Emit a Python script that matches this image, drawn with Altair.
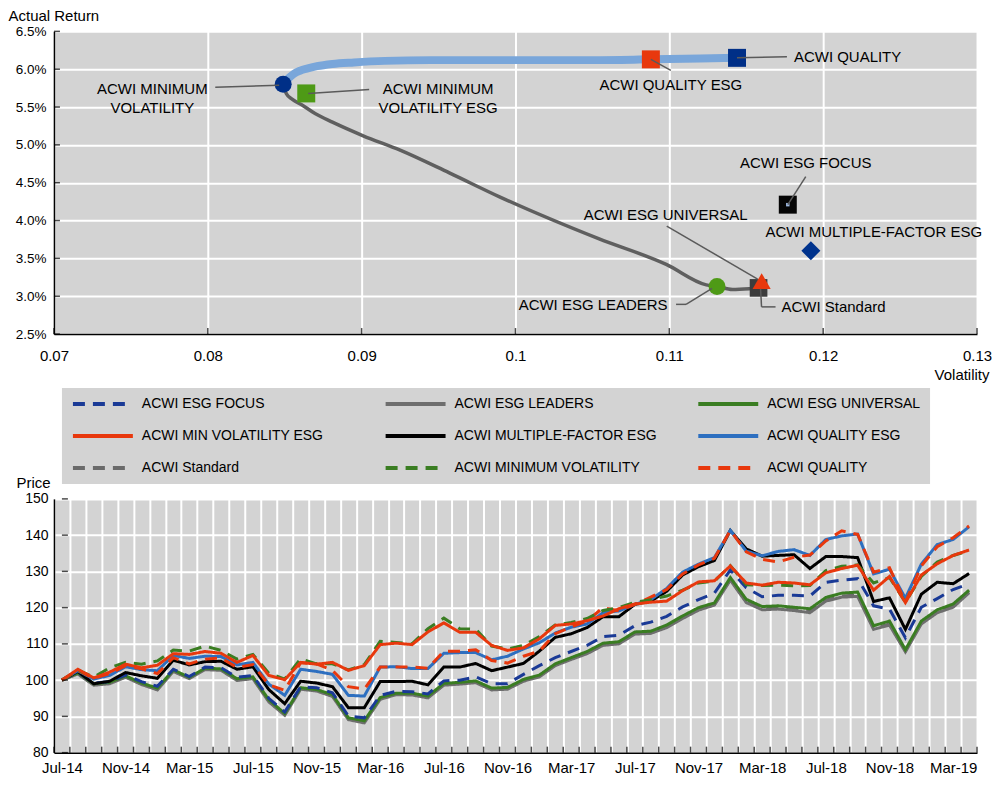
import altair as alt
import pandas as pd

FONT = "Liberation Sans, Arial, sans-serif"

# ---------------- top panel: risk / return ----------------
point_names = ["ACWI MINIMUM VOLATILITY", "ACWI MINIMUM VOLATILITY ESG", "ACWI QUALITY ESG",
               "ACWI QUALITY", "ACWI ESG FOCUS", "ACWI MULTIPLE-FACTOR ESG",
               "ACWI Standard", "ACWI ESG UNIVERSAL", "ACWI ESG LEADERS"]
point_vol = [0.0849, 0.0864, 0.1088, 0.1144, 0.1177, 0.1192, 0.1158, 0.1160, 0.1131]
point_ret = [0.0580, 0.0568, 0.0613, 0.0615, 0.0421, 0.0360, 0.0311, 0.0320, 0.0313]

upper_vol = [0.0849, 0.0851, 0.0853, 0.0856, 0.0860, 0.0865, 0.0871, 0.0881, 0.0895,
             0.0915, 0.0945, 0.0990, 0.1050, 0.1088, 0.1120, 0.1144]
upper_ret = [0.0580, 0.0585, 0.0589, 0.0594, 0.0598, 0.0601, 0.0604, 0.0607, 0.0609,
             0.0611, 0.0612, 0.0612, 0.0612, 0.0613, 0.0614, 0.0615]
lower_vol = [0.0849, 0.0851, 0.0855, 0.0861, 0.0870, 0.0881, 0.0901, 0.0925, 0.0957,
             0.0990, 0.1054, 0.1098, 0.1124, 0.1131, 0.1141, 0.1152, 0.1158]
lower_ret = [0.0580, 0.0568, 0.0560, 0.0553, 0.0541, 0.0530, 0.0512, 0.0493, 0.0463,
             0.0431, 0.0376, 0.0342, 0.0315, 0.0313, 0.0309, 0.0310, 0.0311]

vol_ticks = [0.07, 0.08, 0.09, 0.10, 0.11, 0.12, 0.13]
ret_ticks = [0.025, 0.030, 0.035, 0.040, 0.045, 0.050, 0.055, 0.060, 0.065]

# ---------------- bottom panel: prices ----------------
months = ["Jul-14", "Aug-14", "Sep-14", "Oct-14", "Nov-14", "Dec-14",
          "Jan-15", "Feb-15", "Mar-15", "Apr-15", "May-15", "Jun-15",
          "Jul-15", "Aug-15", "Sep-15", "Oct-15", "Nov-15", "Dec-15",
          "Jan-16", "Feb-16", "Mar-16", "Apr-16", "May-16", "Jun-16",
          "Jul-16", "Aug-16", "Sep-16", "Oct-16", "Nov-16", "Dec-16",
          "Jan-17", "Feb-17", "Mar-17", "Apr-17", "May-17", "Jun-17",
          "Jul-17", "Aug-17", "Sep-17", "Oct-17", "Nov-17", "Dec-17",
          "Jan-18", "Feb-18", "Mar-18", "Apr-18", "May-18", "Jun-18",
          "Jul-18", "Aug-18", "Sep-18", "Oct-18", "Nov-18", "Dec-18",
          "Jan-19", "Feb-19", "Mar-19", "Apr-19"]

esg_focus = [100, 102.2, 99.2, 99.6, 101.4, 99.6, 98.3, 103.0, 101.0, 103.6,
             103.4, 100.8, 101.3, 95.0, 91.2, 98.2, 97.9, 96.5, 90.1, 89.6,
             95.8, 96.9, 96.8, 96.2, 99.8, 100.0, 100.9, 99.0, 99.0, 101.6,
             104.0, 106.2, 107.9, 109.6, 112.0, 112.4, 115.0, 116.0, 117.6, 120.2,
             122.2, 124.0, 130.4, 125.5, 123.0, 123.4, 123.4, 123.2, 127.0, 127.6,
             128.0, 120.5, 119.6, 111.7, 120.1, 122.5, 125.0, 126.6]
esg_leaders = [100, 101.7, 98.6, 99.0, 100.8, 98.8, 97.3, 102.4, 100.4, 102.9,
               102.7, 99.9, 100.4, 94.0, 90.3, 97.5, 97.0, 95.5, 89.1, 88.2,
               94.7, 96.0, 95.9, 95.1, 98.6, 98.9, 99.3, 97.3, 97.5, 99.7,
               100.9, 104.0, 105.7, 107.3, 109.6, 110.0, 112.7, 112.9, 114.5, 117.0,
               119.3, 120.7, 127.6, 121.4, 119.4, 119.6, 119.2, 118.6, 121.8, 122.9,
               123.1, 114.0, 115.2, 107.8, 115.5, 118.6, 120.1, 124.1]
esg_universal = [100, 102.0, 99.0, 99.4, 101.2, 99.2, 97.8, 102.8, 100.8, 103.3,
                 103.1, 100.4, 100.9, 94.6, 90.8, 97.9, 97.4, 96.0, 89.6, 88.8,
                 95.2, 96.4, 96.4, 95.6, 99.1, 99.4, 99.8, 97.8, 98.0, 100.2,
                 101.4, 104.5, 106.2, 107.9, 110.2, 110.6, 113.3, 113.5, 115.2, 117.7,
                 120.0, 121.3, 128.3, 122.3, 120.3, 120.5, 120.1, 119.7, 122.8, 124.0,
                 124.3, 115.0, 116.3, 108.4, 116.3, 119.4, 121.0, 124.8]
min_vol_esg = [100, 103.0, 100.6, 102.2, 104.4, 103.4, 104.1, 107.3, 107.1, 107.9,
               107.4, 104.9, 106.8, 101.3, 100.1, 104.9, 104.4, 104.9, 102.7, 104.0,
               109.8, 110.2, 109.8, 113.3, 115.8, 113.2, 113.2, 109.6, 108.2, 108.9,
               111.4, 115.1, 115.5, 116.4, 117.7, 119.7, 121.0, 121.5, 121.8, 124.7,
               127.1, 127.4, 131.5, 126.8, 126.2, 127.0, 126.8, 126.3, 129.6, 130.8,
               131.7, 124.8, 128.6, 121.4, 129.0, 132.1, 134.4, 135.9]
multi_factor_esg = [100, 102.4, 99.0, 99.7, 102.1, 101.2, 100.5, 105.5, 104.2, 105.1,
                    105.2, 103.0, 103.7, 97.4, 93.5, 99.7, 99.2, 98.2, 92.4, 92.4,
                    99.6, 99.6, 99.7, 98.7, 103.6, 103.6, 104.6, 102.6, 103.6, 104.6,
                    108.0, 111.8, 112.8, 114.5, 117.5, 117.5, 120.9, 121.8, 124.5, 129.0,
                    131.3, 133.0, 141.3, 136.2, 134.2, 134.4, 134.6, 130.8, 134.1, 134.1,
                    133.8, 121.7, 122.7, 114.0, 123.7, 127.0, 126.6, 129.4]
quality_esg = [100, 102.6, 100.3, 101.3, 103.7, 102.9, 102.6, 106.8, 106.0, 106.6,
               106.5, 104.2, 104.9, 98.9, 95.8, 103.0, 102.4, 101.6, 95.8, 95.6,
               103.6, 103.7, 103.2, 103.2, 107.4, 107.6, 107.6, 105.6, 106.6, 108.6,
               110.3, 113.0, 114.6, 115.5, 118.6, 119.1, 120.9, 122.2, 125.3, 129.8,
               132.0, 133.8, 141.3, 135.6, 134.3, 135.5, 136.0, 134.4, 138.8, 139.8,
               140.3, 129.3, 130.6, 122.6, 132.0, 137.4, 138.8, 142.3]
standard = [100, 101.8, 98.8, 99.2, 101.0, 99.0, 97.5, 102.6, 100.6, 103.1,
            102.9, 100.1, 100.6, 94.3, 90.5, 97.7, 97.2, 95.7, 89.3, 88.5,
            94.9, 96.2, 96.1, 95.3, 98.8, 99.1, 99.5, 97.5, 97.7, 99.9,
            101.1, 104.2, 105.9, 107.5, 109.8, 110.2, 112.9, 113.1, 114.7, 117.2,
            119.5, 120.9, 127.8, 121.6, 119.7, 119.9, 119.5, 119.0, 122.1, 123.2,
            123.5, 114.3, 115.5, 108.0, 115.8, 118.9, 120.4, 124.3]
minimum_volatility = [100, 102.8, 100.8, 103.4, 104.9, 104.4, 105.3, 108.3, 108.0, 109.4,
                      108.2, 105.8, 107.1, 101.9, 100.3, 105.9, 104.5, 104.5, 102.8, 104.3,
                      110.7, 110.4, 110.0, 114.2, 117.1, 114.2, 114.1, 109.4, 108.6, 109.6,
                      112.0, 115.2, 115.9, 117.0, 119.2, 120.0, 121.5, 122.2, 123.2, 124.8,
                      126.8, 127.3, 131.6, 126.3, 126.1, 126.2, 126.0, 126.1, 130.2, 131.4,
                      131.8, 126.8, 128.3, 121.5, 128.6, 132.6, 134.4, 135.7]
quality = [100, 102.7, 100.5, 101.8, 104.0, 103.1, 101.8, 106.2, 104.5, 105.8,
           106.1, 103.5, 104.3, 98.7, 97.2, 104.8, 104.5, 102.7, 98.2, 97.5,
           103.6, 103.6, 103.6, 103.3, 108.0, 108.0, 108.4, 105.4, 104.7, 106.6,
           108.0, 112.8, 114.7, 116.3, 120.0, 119.1, 120.9, 122.9, 125.0, 129.3,
           131.8, 133.6, 141.3, 135.4, 133.3, 132.6, 133.9, 134.5, 138.4, 141.2,
           140.2, 129.8, 131.0, 121.5, 131.5, 136.8, 139.3, 142.5]

price_ticks = [80, 90, 100, 110, 120, 130, 140, 150]

series_data = {
    "ACWI ESG FOCUS": esg_focus,
    "ACWI ESG LEADERS": esg_leaders,
    "ACWI ESG UNIVERSAL": esg_universal,
    "ACWI MIN VOLATILITY ESG": min_vol_esg,
    "ACWI MULTIPLE-FACTOR ESG": multi_factor_esg,
    "ACWI QUALITY ESG": quality_esg,
    "ACWI Standard": standard,
    "ACWI MINIMUM VOLATILITY": minimum_volatility,
    "ACWI QUALITY": quality,
}
legend_order = list(series_data.keys())

# ---------------- styles / layout ----------------
series_colors = ["#1A3A96", "#6E6E6E", "#3A7D22", "#E8380D", "#000000",
                 "#2D6FC0", "#6A6A6A", "#3A7D22", "#E8380D"]
DASH = [12, 8]
SOLID = [1, 0]
series_dashes = [DASH, SOLID, SOLID, SOLID, SOLID, SOLID, DASH, DASH, DASH]
draw_order = ["ACWI Standard", "ACWI ESG LEADERS", "ACWI ESG UNIVERSAL", "ACWI ESG FOCUS",
              "ACWI MULTIPLE-FACTOR ESG", "ACWI QUALITY ESG", "ACWI QUALITY",
              "ACWI MINIMUM VOLATILITY", "ACWI MIN VOLATILITY ESG"]

marker_style = {
    "ACWI MINIMUM VOLATILITY": ("circle", "#002F87", 289),
    "ACWI MINIMUM VOLATILITY ESG": ("square", "#4E9A16", 324),
    "ACWI QUALITY ESG": ("square", "#E8380D", 324),
    "ACWI QUALITY": ("square", "#002F87", 324),
    "ACWI ESG FOCUS": ("square", "#050505", 324),
    "ACWI MULTIPLE-FACTOR ESG": ("diamond", "#00338D", 361),
    "ACWI Standard": ("square", "#3C3C3C", 313),
    "ACWI ESG UNIVERSAL": ("triangle-up", "#E8380D", 330),
    "ACWI ESG LEADERS": ("circle", "#4E9A16", 289),
}
marker_draw = ["ACWI MINIMUM VOLATILITY", "ACWI MINIMUM VOLATILITY ESG", "ACWI QUALITY ESG",
               "ACWI QUALITY", "ACWI ESG FOCUS", "ACWI MULTIPLE-FACTOR ESG",
               "ACWI ESG LEADERS", "ACWI Standard", "ACWI ESG UNIVERSAL"]
inner_dot = ("ACWI ESG FOCUS", "#9DB8E0", 12)

annotations = [
    dict(name="ACWI MINIMUM VOLATILITY", lines=["ACWI MINIMUM", "VOLATILITY"], dx=-131, dy=5,
         align="center", leaders=[(-68, 3, -4, 1)]),
    dict(name="ACWI MINIMUM VOLATILITY ESG", lines=["ACWI MINIMUM", "VOLATILITY ESG"], dx=132, dy=-4,
         align="center", leaders=[(63, -4, 2, 0)]),
    dict(name="ACWI QUALITY ESG", lines=["ACWI QUALITY ESG"], dx=20, dy=26,
         align="center", leaders=[(0, 0, 20, 11)]),
    dict(name="ACWI QUALITY", lines=["ACWI QUALITY"], dx=57, dy=-1,
         align="left", leaders=[(0, 0, 50, -1)]),
    dict(name="ACWI ESG FOCUS", lines=["ACWI ESG FOCUS"], dx=18, dy=-42,
         align="center", leaders=[(18, -28, 0, 0)]),
    dict(name="ACWI MULTIPLE-FACTOR ESG", lines=["ACWI MULTIPLE-FACTOR ESG"], dx=63, dy=-19,
         align="center", leaders=[]),
    dict(name="ACWI ESG UNIVERSAL", lines=["ACWI ESG UNIVERSAL"], dx=-96, dy=-66,
         align="center", leaders=[(-95, -55, -4, -2)]),
    dict(name="ACWI Standard", lines=["ACWI Standard"], dx=23, dy=19,
         align="left", leaders=[(17, 19, 3, 19), (3, 19, 2, 1)]),
    dict(name="ACWI ESG LEADERS", lines=["ACWI ESG LEADERS"], dx=-124, dy=19,
         align="center", leaders=[(-41, 18, -31, 18), (-31, 18, -5, 2)]),
]

GRID = "#FFFFFF"
BG = "#D3D3D3"
LEADER = "#5A5A5A"

# ================= top chart =================
pts = pd.DataFrame({"name": point_names, "vol": point_vol, "ret": point_ret})
upper = pd.DataFrame({"vol": upper_vol, "ret": upper_ret, "idx": range(len(upper_vol))})
lower = pd.DataFrame({"vol": lower_vol, "ret": lower_ret, "idx": range(len(lower_vol))})
vt = pd.DataFrame({"vol": vol_ticks})
rt = pd.DataFrame({"ret": ret_ticks})

xs = alt.Scale(domain=[vol_ticks[0], vol_ticks[-1]], nice=False, zero=False)
ys = alt.Scale(domain=[ret_ticks[0], ret_ticks[-1]], nice=False, zero=False)
x_axis = alt.Axis(values=vol_ticks, format="~g", title="Volatility", titleX=936, titleY=45,
                  titleAlign="right", titleBaseline="alphabetic", labelPadding=14,
                  labelFontSize=15, labelFlush=False, labelOverlap=False, ticks=False,
                  domainColor="black", domainWidth=1.5, gridColor=GRID, gridWidth=2, gridOpacity=1)
y_axis = alt.Axis(values=ret_ticks, format=".1%", title="Actual Return", titleAngle=0,
                  titleAlign="left", titleX=-46, titleY=-11, titleBaseline="alphabetic",
                  labelPadding=8, labelFontSize=13.5, labelFlush=False, labelOverlap=False,
                  ticks=False, domainColor="black", domainWidth=1.5, gridColor=GRID,
                  gridWidth=2, gridOpacity=1)
X = alt.X("vol:Q", scale=xs, axis=x_axis)
Y = alt.Y("ret:Q", scale=ys, axis=y_axis)

top_layers = []
top_layers.append(alt.Chart(upper).mark_line(color="#79A6DA", strokeWidth=8, interpolate="monotone")
                  .encode(x=X, y=Y, order=alt.Order("idx:Q")))
top_layers.append(alt.Chart(lower).mark_line(color="#5F5F5F", strokeWidth=3.5, interpolate="monotone")
                  .encode(x=X, y=Y, order=alt.Order("idx:Q")))
# inward axis ticks (at the axis baselines)
top_layers.append(alt.Chart(vt).transform_calculate(ret=str(ret_ticks[0]))
                  .mark_tick(orient="vertical", size=6, thickness=1.5, color="black", yOffset=-3)
                  .encode(x=X, y=Y))
top_layers.append(alt.Chart(rt).transform_calculate(vol=str(vol_ticks[0]))
                  .mark_tick(orient="horizontal", size=6, thickness=1.5, color="black", xOffset=3)
                  .encode(x=X, y=Y))
for n in marker_draw:
    shape, col, size = marker_style[n]
    top_layers.append(alt.Chart(pts).transform_filter(alt.datum.name == n)
                      .mark_point(shape=shape, filled=True, color=col, size=size, opacity=1)
                      .encode(x=X, y=Y))
top_layers.append(alt.Chart(pts).transform_filter(alt.datum.name == inner_dot[0])
                  .mark_point(shape="square", filled=True, color=inner_dot[1], size=inner_dot[2], opacity=1)
                  .encode(x=X, y=Y))
for a in annotations:
    for (x1, y1, x2, y2) in a["leaders"]:
        top_layers.append(alt.Chart(pts).transform_filter(alt.datum.name == a["name"])
                          .mark_rule(color=LEADER, strokeWidth=1.5, xOffset=x1, yOffset=y1,
                                     x2Offset=x2, y2Offset=y2)
                          .encode(x=X, y=Y, x2=alt.X2("vol"), y2=alt.Y2("ret")))
    txt = a["lines"] if len(a["lines"]) > 1 else a["lines"][0]
    top_layers.append(alt.Chart(pts).transform_filter(alt.datum.name == a["name"])
                      .mark_text(text=txt, dx=a["dx"], dy=a["dy"], align=a["align"], baseline="middle",
                                 lineHeight=19, font=FONT, fontSize=15, color="black")
                      .encode(x=X, y=Y))

top = alt.layer(*top_layers).properties(width=924, height=303)

# ================= bottom chart =================
rows = []
for s in draw_order:
    for m, v in zip(months, series_data[s]):
        rows.append({"month": m, "series": s, "price": v})
prices = pd.DataFrame(rows)
mt = pd.DataFrame({"month": months})
pt = pd.DataFrame({"price": price_ticks})

bx_scale = alt.Scale(type="band", paddingInner=0, paddingOuter=0)
bx_axis = alt.Axis(title=None, labelAngle=0, labelOverlap=False, labelPadding=8, labelFontSize=15,
                   labelExpr="test(/^(Jul|Nov|Mar)/, datum.label) ? datum.label : ''",
                   tickBand="extent", ticks=False, domainColor="black", domainWidth=1.5,
                   gridColor=GRID, gridWidth=2, gridOpacity=1, grid=True)
by_axis = alt.Axis(values=price_ticks, title="Price", titleAngle=0, titleAlign="left",
                   titleX=-38, titleY=-11, titleBaseline="alphabetic", labelPadding=6,
                   labelFontSize=14, labelFlush=False, labelOverlap=False, ticks=False,
                   domainColor="black", domainWidth=1.5, gridColor=GRID, gridWidth=2, gridOpacity=1)
by_scale = alt.Scale(domain=[price_ticks[0], price_ticks[-1]], nice=False, zero=False)
BX = alt.X("month:N", sort=months, scale=bx_scale, axis=bx_axis)
BY = alt.Y("price:Q", scale=by_scale, axis=by_axis)

lines = alt.Chart(prices).mark_line(strokeWidth=3).encode(
    x=BX, y=BY,
    color=alt.Color("series:N", sort=legend_order,
                    scale=alt.Scale(domain=legend_order, range=series_colors),
                    legend=alt.Legend(title=None)),
    strokeDash=alt.StrokeDash("series:N", sort=legend_order,
                              scale=alt.Scale(domain=legend_order, range=series_dashes),
                              legend=alt.Legend(title=None)),
    detail="series:N",
)
xt = alt.Chart(mt).transform_calculate(price=str(price_ticks[0])).mark_tick(
    orient="vertical", size=6, thickness=1.5, color="black", yOffset=-3).encode(
    x=alt.X("month:N", sort=months, scale=bx_scale, axis=bx_axis, bandPosition=0), y=BY)
xt_end = alt.Chart(mt).transform_filter(alt.datum.month == months[-1]).transform_calculate(
    price=str(price_ticks[0])).mark_tick(
    orient="vertical", size=6, thickness=1.5, color="black", yOffset=-3).encode(
    x=alt.X("month:N", sort=months, scale=bx_scale, axis=bx_axis, bandPosition=1), y=BY)
yt = alt.Chart(pt).transform_calculate(month="'" + months[0] + "'").mark_tick(
    orient="horizontal", size=6, thickness=1.5, color="black", xOffset=3).encode(
    x=alt.X("month:N", sort=months, scale=bx_scale, axis=bx_axis, bandPosition=0), y=BY)

bottom = alt.layer(lines, xt, xt_end, yt).properties(width=924, height=254)

chart = alt.vconcat(top, bottom, spacing=165, bounds="flush").resolve_legend(
    color="independent", strokeDash="independent"
).properties(padding=0).configure(font=FONT).configure_view(
    fill=BG, stroke=None
).configure_axis(
    labelFont=FONT, titleFont=FONT, titleFontSize=15, labelOverlap=False,
    titleFontWeight="normal", labelColor="black", titleColor="black"
).configure_legend(
    orient="none", legendX=8, legendY=-111, columns=3, direction="horizontal",
    fillColor=BG, padding=9,
    symbolType="stroke", symbolSize=3600, symbolStrokeWidth=4, clipHeight=14,
    rowPadding=18, columnPadding=39, gridAlign="all", labelFont=FONT, labelFontSize=14,
    labelLimit=400, labelOffset=7, labelColor="black", symbolOffset=0
)

chart.save("out.html", embed_options={"renderer": "svg", "actions": False})
